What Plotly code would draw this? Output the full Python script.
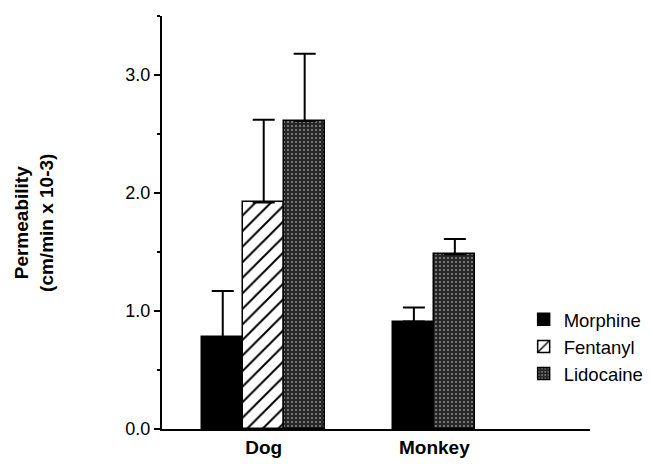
import plotly.graph_objects as go

# ---- data ----
groups = ["Dog", "Monkey"]
series = ["Morphine", "Fentanyl", "Lidocaine"]
means = {
    "Morphine":  [0.78, 0.91],
    "Fentanyl":  [1.92, None],
    "Lidocaine": [2.61, 1.48],
}
errors = {
    "Morphine":  [0.39, 0.12],
    "Fentanyl":  [0.70, None],
    "Lidocaine": [0.57, 0.13],
}
y_ticks = [0, 1, 2, 3]
y_ticklabels = ["0.0", "1.0", "2.0", "3.0"]

# ---- styling ----
FONT = "Liberation Sans, Arial, Helvetica, sans-serif"
bar_w = 0.24
styles = {
    "Morphine": dict(color="black",
                     pattern=dict(shape="", fillmode="replace")),
    "Fentanyl": dict(color="white",
                     pattern=dict(shape="/", fgcolor="black", bgcolor="white",
                                  size=11, solidity=0.18, fillmode="replace")),
    "Lidocaine": dict(color="#3a3a3a",
                      pattern=dict(shape=".", fgcolor="#9a9a9a", bgcolor="#262626",
                                   size=4, solidity=0.16, fillmode="replace")),
}

# positions: bars of each group centred on the group position
pos = {s: [None] * len(groups) for s in series}
for gi in range(len(groups)):
    present = [s for s in series if means[s][gi] is not None]
    n = len(present)
    for k, s in enumerate(present):
        pos[s][gi] = (gi + 1) + (k - (n - 1) / 2) * bar_w

fig = go.Figure()
for s in series:
    xs = [pos[s][i] for i in range(len(groups)) if means[s][i] is not None]
    ys = [means[s][i] for i in range(len(groups)) if means[s][i] is not None]
    es = [errors[s][i] for i in range(len(groups)) if means[s][i] is not None]
    fig.add_trace(go.Bar(
        name=s, x=xs, y=ys, width=bar_w,
        marker=dict(color=styles[s]["color"], pattern=styles[s]["pattern"],
                    line=dict(color="black", width=1.5)),
        error_y=dict(type="data", array=es, arrayminus=[0] * len(es),
                     symmetric=False, color="black", thickness=2, width=11),
    ))

# page body has an 8px margin, so the figure is sized to fit the window
fig.update_layout(
    width=644, height=456,
    margin=dict(l=154, r=62, t=8, b=35, autoexpand=False),
    paper_bgcolor="white", plot_bgcolor="white",
    font=dict(family=FONT, color="black"),
    showlegend=True,
    legend=dict(x=0.845, y=0.199, xanchor="left", yanchor="middle",
                font=dict(size=18.5, family=FONT), itemwidth=30,
                bgcolor="rgba(0,0,0,0)", tracegroupgap=4),
    bargap=0,
)
fig.update_xaxes(
    range=[0.404, 2.912], showgrid=False, zeroline=False,
    showline=True, linecolor="black", linewidth=2,
    tickvals=[1, 2], ticktext=["<b>%s</b>" % g for g in groups], ticks="",
    tickfont=dict(size=19, family=FONT),
)
fig.update_yaxes(
    range=[0, 3.5], showgrid=False, zeroline=False,
    showline=True, linecolor="black", linewidth=2,
    tickvals=y_ticks, ticktext=y_ticklabels,
    ticks="outside", ticklen=6, tickwidth=2, tickcolor="black",
    tickfont=dict(size=18, family=FONT),
    minor=dict(dtick=0.5, ticks="outside", ticklen=3, tickwidth=2, tickcolor="black"),
)
fig.add_annotation(
    text="<b>Permeability<br>(cm/min x 10-3)</b>",
    xref="paper", yref="paper", x=-0.299, y=0.499,
    xanchor="center", yanchor="middle", textangle=-90, showarrow=False,
    font=dict(size=19, family=FONT),
)

fig.write_html("out.html")
